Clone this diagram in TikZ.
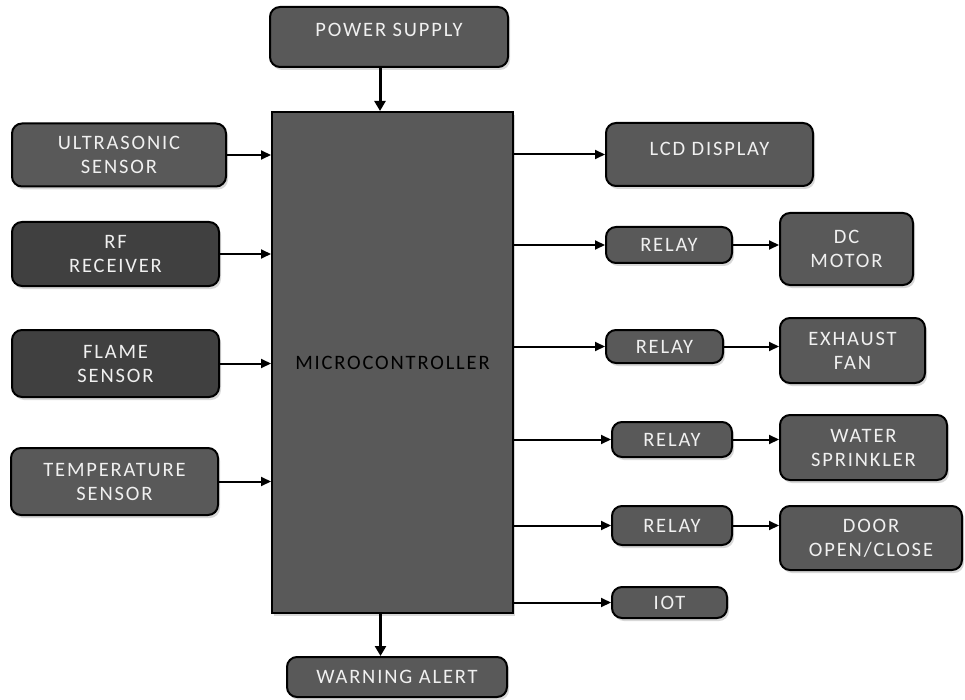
\documentclass[tikz,border=0pt]{standalone}
\usepackage{fontspec}
\setmainfont[LetterSpace=9]{Carlito}
\usetikzlibrary{arrows.meta,shadows}
\tikzset{
  blk/.style={draw=black, line width=2pt, rounded corners=10pt, fill=black!65,
    text=white!94!black, align=center, font=\fontsize{20.5}{24}\selectfont,
    drop shadow={fill=black!30, shadow xshift=2pt, shadow yshift=-3pt}},
  darkblk/.style={blk, fill=black!75},
  conn/.style={line width=2pt, -{Triangle[length=10pt,width=9pt]}},
  bigconn/.style={line width=3pt, -{Triangle[length=10pt,width=11pt]}}
}
\begin{document}
\begin{tikzpicture}[x=1pt, y=-1pt]
  \useasboundingbox[fill=white] (0,0) rectangle (965,700);
  % centre block
  \node[blk, rounded corners=0pt, fill=black!65, text=black, minimum width=241pt, minimum height=501pt] (mcu) at (392.5,362.5) {MICROCONTROLLER};
  \node[blk, minimum width=238pt, minimum height=60pt, text depth=14pt] (ps) at (389,37) {POWER SUPPLY};
  \node[blk, minimum width=220pt, minimum height=40pt] (warn) at (397,677) {WARNING ALERT};
  % inputs
  \node[blk, minimum width=214pt, minimum height=63pt] (us) at (119,155) {ULTRASONIC\\SENSOR};
  \node[darkblk, minimum width=207pt, minimum height=64pt] (rf) at (115.5,254) {RF\\RECEIVER};
  \node[darkblk, minimum width=207pt, minimum height=67pt] (flame) at (115.5,363.5) {FLAME\\SENSOR};
  \node[blk, minimum width=207pt, minimum height=67pt] (temp) at (114.5,481.5) {TEMPERATURE\\SENSOR};
  % outputs
  \node[blk, minimum width=207pt, minimum height=63pt, text depth=12pt] (lcd) at (709.5,154.5) {LCD DISPLAY};
  \node[blk, minimum width=126pt, minimum height=36pt] (relay1) at (669,245) {RELAY};
  \node[blk, minimum width=133pt, minimum height=72pt] (motor) at (846.5,249) {DC\\MOTOR};
  \node[blk, minimum width=117pt, minimum height=33pt] (relay2) at (664.5,346.5) {RELAY};
  \node[blk, minimum width=145pt, minimum height=65pt] (fan) at (852.5,350.5) {EXHAUST\\FAN};
  \node[blk, minimum width=120pt, minimum height=35pt] (relay3) at (672,439.5) {RELAY};
  \node[blk, minimum width=167pt, minimum height=65pt] (sprinkler) at (863.5,447.5) {WATER\\SPRINKLER};
  \node[blk, minimum width=120pt, minimum height=39pt] (relay4) at (672,525.5) {RELAY};
  \node[blk, minimum width=182pt, minimum height=64pt] (door) at (871,538) {DOOR\\OPEN/CLOSE};
  \node[blk, minimum width=115pt, minimum height=31pt] (iot) at (669.5,602.5) {IOT};
  % connections
  \draw[bigconn] ([xshift=-9pt]ps.south) -- ([xshift=-9pt]ps.south |- mcu.north);
  \draw[bigconn] ([xshift=-12pt]mcu.south) -- ([xshift=-12pt]mcu.south |- warn.north);
  \foreach \src in {us,rf,flame,temp}
    \draw[conn] (\src) -- (\src -| mcu.west);
  \foreach \dst in {lcd,relay1,relay2,relay3,relay4,iot}
    \draw[conn] (\dst -| mcu.east) -- (\dst);
  \draw[conn] (relay1) -- (relay1 -| motor.west);
  \draw[conn] (relay2) -- (relay2 -| fan.west);
  \draw[conn] (relay3) -- (relay3 -| sprinkler.west);
  \draw[conn] (relay4) -- (relay4 -| door.west);
\end{tikzpicture}
\end{document}
